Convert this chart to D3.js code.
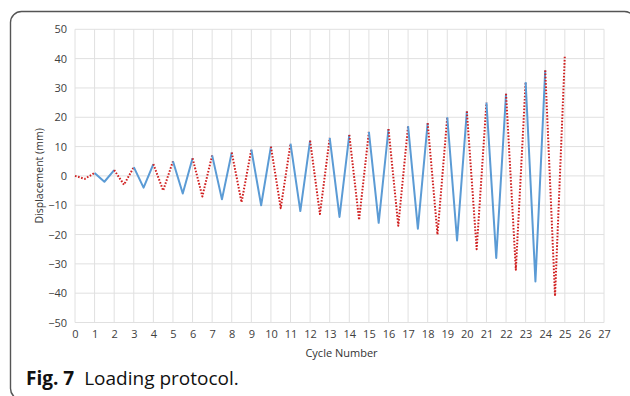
<!DOCTYPE html>
<html><head><meta charset="utf-8">
<script src="https://cdn.jsdelivr.net/npm/d3@7"></script>
<style>body{margin:0;background:#fff;} svg{display:block;}</style>
</head><body>
<svg id="c" width="630" height="396"></svg>
<script>
// Data
const cycles = d3.range(0, 25);               // cycle index 0..24
const peaks   = [1,2,3,4,5,6,7,8,9,10,11,12,13,14,15,16,17,18,20,22,25,28,32,36,41];   // at x = cycle+1
const troughs = [-1,-2,-3,-4,-5,-6,-7,-8,-9,-10,-11,-12,-13,-14,-15,-16,-17,-18,-20,-22,-25,-28,-32,-36,-41]; // at x = cycle+0.5
const xTicks = d3.range(0, 28);
const yTicks = [-50,-40,-30,-20,-10,0,10,20,30,40,50];

const svg = d3.select("#c");
const font = "'Open Sans', 'Noto Sans', sans-serif";

// frame
svg.append("rect").attr("x",10.5).attr("y",11.5).attr("width",625).attr("height",388)
  .attr("rx",11).attr("fill","none").attr("stroke","#555").attr("stroke-width",1.4);

const L=75, R=604, T=29.3, B=322.5;
const x = d3.scaleLinear().domain([0,27]).range([L,R]);
const y = d3.scaleLinear().domain([-50,50]).range([B,T]);

// grid
const g = svg.append("g");
g.selectAll("line.v").data(xTicks).join("line")
  .attr("x1",d=>x(d)).attr("x2",d=>x(d)).attr("y1",T).attr("y2",B)
  .attr("stroke","#e0e0e0").attr("stroke-width",1);
g.selectAll("line.h").data(yTicks).join("line")
  .attr("y1",d=>y(d)).attr("y2",d=>y(d)).attr("x1",L).attr("x2",R)
  .attr("stroke","#e0e0e0").attr("stroke-width",1);

// axes labels
const yAxis = d3.axisLeft(y).tickValues(yTicks).tickSize(0).tickPadding(8);
svg.append("g").attr("transform",`translate(${L},0)`).call(yAxis)
  .call(s=>s.select(".domain").remove())
  .selectAll("text").attr("font-family",font).attr("font-size",11).attr("fill","#404040");
const xAxis = d3.axisBottom(x).tickValues(xTicks).tickSize(0).tickPadding(8);
svg.append("g").attr("transform",`translate(0,${B})`).call(xAxis)
  .call(s=>s.select(".domain").remove())
  .selectAll("text").attr("font-family",font).attr("font-size",11).attr("fill","#404040");

svg.append("text").attr("x",(L+R)/2+2).attr("y",357).attr("text-anchor","middle")
  .attr("font-family",font).attr("font-size",11).attr("fill","#333").text("Cycle Number");
svg.append("text").attr("transform",`translate(43,${y(0)}) rotate(-90)`).attr("text-anchor","middle")
  .attr("font-family",font).attr("font-size",10.5).attr("fill","#333").text("Displacement (mm)");

// lines
const line = d3.line().x(d=>x(d[0])).y(d=>y(d[1]));
cycles.forEach(i=>{
  const start = i===0 ? 0 : peaks[i-1];
  const pts = [[i,start],[i+0.5,troughs[i]],[i+1,peaks[i]]];
  const red = i%2===0;
  svg.append("path").attr("d",line(pts)).attr("fill","none")
    .attr("stroke", red ? "#d02020" : "#5b9bd5")
    .attr("stroke-width", 2)
    .attr("stroke-dasharray", red ? "1.6,1.6" : null)
    .attr("stroke-linejoin","round");
});

// caption
const cap = svg.append("text").attr("x",26).attr("y",385).attr("font-family",font).attr("font-size",19).attr("fill","#111");
cap.append("tspan").attr("font-weight","bold").text("Fig. 7");
cap.append("tspan").attr("dx",10).text("Loading protocol.");
</script>
</body></html>
